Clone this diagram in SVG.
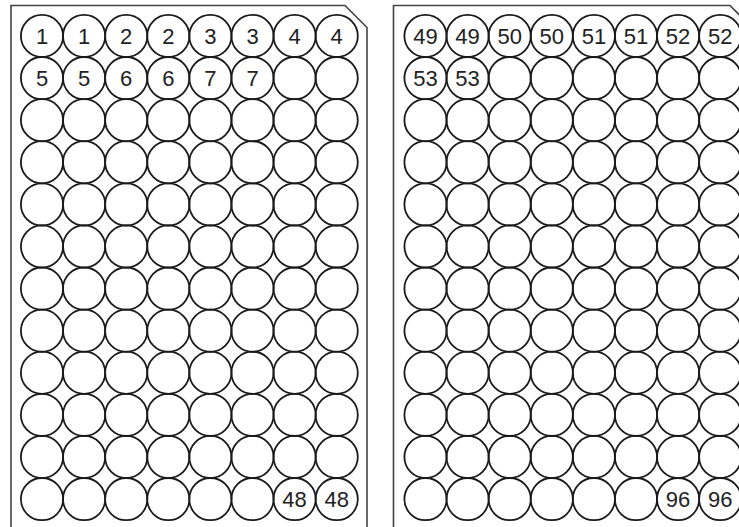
<svg xmlns="http://www.w3.org/2000/svg" xmlns:xlink="http://www.w3.org/1999/xlink" width="739" height="527" viewBox="0 0 739 527">
<style>
.plate{fill:none;stroke:#444;stroke-width:1.6}
.well{fill:none;stroke:#1a1a1a;stroke-width:1.8}
.lbl{font-family:"Liberation Sans",Arial,sans-serif;font-size:22px;fill:#222;text-anchor:middle}
</style>
<defs>
<g id="row">
<circle class="well" cx="0" cy="0" r="21.1"/>
<circle class="well" cx="42.1" cy="0" r="21.1"/>
<circle class="well" cx="84.2" cy="0" r="21.1"/>
<circle class="well" cx="126.3" cy="0" r="21.1"/>
<circle class="well" cx="168.4" cy="0" r="21.1"/>
<circle class="well" cx="210.5" cy="0" r="21.1"/>
<circle class="well" cx="252.6" cy="0" r="21.1"/>
<circle class="well" cx="294.7" cy="0" r="21.1"/>
</g>
</defs>
<rect width="739" height="527" fill="#fff"/>
<g id="plate-left">
<path class="plate" d="M11,527 V5.5 H345 L367,27.5 V527"/>
<g transform="translate(42,36)">
<use xlink:href="#row" y="0"/><use xlink:href="#row" y="42.1"/><use xlink:href="#row" y="84.2"/><use xlink:href="#row" y="126.3"/>
<use xlink:href="#row" y="168.4"/><use xlink:href="#row" y="210.5"/><use xlink:href="#row" y="252.6"/><use xlink:href="#row" y="294.7"/>
<use xlink:href="#row" y="336.8"/><use xlink:href="#row" y="378.9"/><use xlink:href="#row" y="421"/><use xlink:href="#row" y="463.1"/>
<g class="lbl">
<text x="0" y="8">1</text><text x="42.1" y="8">1</text><text x="84.2" y="8">2</text><text x="126.3" y="8">2</text>
<text x="168.4" y="8">3</text><text x="210.5" y="8">3</text><text x="252.6" y="8">4</text><text x="294.7" y="8">4</text>
<text x="0" y="50.1">5</text><text x="42.1" y="50.1">5</text><text x="84.2" y="50.1">6</text><text x="126.3" y="50.1">6</text>
<text x="168.4" y="50.1">7</text><text x="210.5" y="50.1">7</text>
<text x="252.6" y="471.1">48</text><text x="294.7" y="471.1">48</text>
</g>
</g>
</g>
<g id="plate-right">
<path class="plate" d="M393.5,527 V5.5 H730 L752,27.5 V527"/>
<g transform="translate(425.5,36)">
<use xlink:href="#row" y="0"/><use xlink:href="#row" y="42.1"/><use xlink:href="#row" y="84.2"/><use xlink:href="#row" y="126.3"/>
<use xlink:href="#row" y="168.4"/><use xlink:href="#row" y="210.5"/><use xlink:href="#row" y="252.6"/><use xlink:href="#row" y="294.7"/>
<use xlink:href="#row" y="336.8"/><use xlink:href="#row" y="378.9"/><use xlink:href="#row" y="421"/><use xlink:href="#row" y="463.1"/>
<g class="lbl">
<text x="0" y="8">49</text><text x="42.1" y="8">49</text><text x="84.2" y="8">50</text><text x="126.3" y="8">50</text>
<text x="168.4" y="8">51</text><text x="210.5" y="8">51</text><text x="252.6" y="8">52</text><text x="294.7" y="8">52</text>
<text x="0" y="50.1">53</text><text x="42.1" y="50.1">53</text>
<text x="252.6" y="471.1">96</text><text x="294.7" y="471.1">96</text>
</g>
</g>
</g>
<g id="connectors"/>
</svg>
